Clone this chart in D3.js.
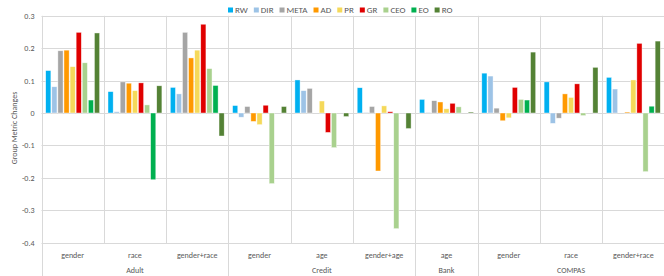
<!DOCTYPE html>
<html>
<head>
<meta charset="utf-8">
<script src="https://cdn.jsdelivr.net/npm/d3@7"></script>
<style>
  body { margin: 0; background: #fff; }
  text { font-family: Carlito, Calibri, "Open Sans", "Noto Sans", sans-serif; fill: #595959; }
</style>
</head>
<body>
<svg id="chart" width="664" height="276"></svg>
<script>
// chart data
datasets = ["Adult", "Adult", "Adult", "Credit", "Credit", "Credit", "Bank", "COMPAS", "COMPAS", "COMPAS"];
attributes = ["gender", "race", "gender+race", "gender", "age", "gender+age", "age", "gender", "race", "gender+race"];

seriesNames = ["RW", "DIR", "META", "AD", "PR", "GR", "CEO", "EO", "RO"];
seriesColors = ["#00b0f0", "#9dc3e6", "#a5a5a5", "#ff9900", "#f5d95a", "#e00000", "#a9d18e", "#00b050", "#548235"];

RW   = [0.131, 0.066, 0.079, 0.023, 0.102, 0.078, 0.042, 0.123, 0.096, 0.110];
DIR  = [0.081, 0.004, 0.059, -0.013, 0.069, 0.002, 0.002, 0.114, -0.032, 0.074];
META = [0.192, 0.096, 0.249, 0.020, 0.076, 0.020, 0.038, 0.015, -0.016, 0];
AD   = [0.194, 0.092, 0.170, -0.026, 0, -0.179, 0.034, -0.024, 0.059, 0.003];
PR   = [0.143, 0.069, 0.194, -0.036, 0.037, 0.022, 0.013, -0.015, 0.048, 0.102];
GR   = [0.249, 0.093, 0.274, 0.024, -0.060, 0.004, 0.030, 0.079, 0.090, 0.215];
CEO  = [0.155, 0.025, 0.137, -0.218, -0.107, -0.357, 0.019, 0.042, -0.008, -0.181];
EO   = [0.040, -0.206, 0.085, 0, 0, 0, 0, 0.040, 0, 0.021];
RO   = [0.247, 0.084, -0.071, 0.020, -0.011, -0.048, 0.003, 0.188, 0.141, 0.222];

yTicks = [0.3, 0.2, 0.1, 0, -0.1, -0.2, -0.3, -0.4];

values = [RW, DIR, META, AD, PR, GR, CEO, EO, RO];

var svg = d3.select("#chart");
var gridColor = "#d9d9d9";

var plotLeft = 41.5, plotRight = 664.5, plotTop = 15.8, plotBottom = 242.6;

var x0 = d3.scaleBand()
  .domain(d3.range(attributes.length))
  .range([plotLeft, plotRight]);

var x1 = d3.scaleBand()
  .domain(seriesNames)
  .range([4.2, x0.bandwidth() - 4.2])
  .paddingInner(0.15);

var y = d3.scaleLinear()
  .domain([-0.4, 0.3])
  .range([plotBottom, plotTop]);

// horizontal gridlines
svg.append("g").selectAll("line")
  .data(yTicks)
  .enter().append("line")
  .attr("x1", plotLeft).attr("x2", plotRight)
  .attr("y1", d => Math.round(y(d)) + 0.5)
  .attr("y2", d => Math.round(y(d)) + 0.5)
  .attr("stroke", gridColor);

// category separators; dataset boundaries run down through the labels
var bounds = d3.range(attributes.length + 1);
function bx(i) { return Math.round(i < attributes.length ? x0(i) : plotRight) + 0.5; }
svg.append("g").selectAll("line")
  .data(bounds)
  .enter().append("line")
  .attr("x1", bx)
  .attr("x2", bx)
  .attr("y1", plotTop)
  .attr("y2", i => (i == 0 || i == attributes.length || datasets[i] != datasets[i - 1]) ? 276 : Math.round(plotBottom) + 0.5)
  .attr("stroke", gridColor);

// y tick labels
svg.append("g").selectAll("text")
  .data(yTicks)
  .enter().append("text")
  .attr("x", 34.5)
  .attr("y", d => y(d) + 3)
  .attr("text-anchor", "end")
  .attr("font-size", 8)
  .text(d => d == 0 ? "0" : d.toFixed(1));

svg.append("text")
  .attr("transform", "translate(17,128) rotate(-90)")
  .attr("text-anchor", "middle")
  .attr("font-size", 8)
  .text("Group Metric Changes");

// bars
var groups = svg.append("g").selectAll("g")
  .data(seriesNames)
  .enter().append("g")
  .attr("fill", (d, i) => seriesColors[i]);

groups.selectAll("rect")
  .data((d, i) => values[i].map((v, j) => ({ s: d, v: v, c: j })))
  .enter().append("rect")
  .attr("x", d => x0(d.c) + x1(d.s))
  .attr("width", x1.bandwidth())
  .attr("y", d => y(Math.max(0, d.v)))
  .attr("height", d => Math.abs(y(d.v) - y(0)))
  .attr("stroke", "#fff")
  .attr("stroke-opacity", 0.7)
  .attr("stroke-width", 0.6);

// attribute labels
svg.append("g").selectAll("text")
  .data(attributes)
  .enter().append("text")
  .attr("x", (d, i) => x0(i) + x0.bandwidth() / 2)
  .attr("y", 257.5)
  .attr("text-anchor", "middle")
  .attr("font-size", 8)
  .text(d => d);

// dataset labels
var dsNames = Array.from(new Set(datasets));
svg.append("g").selectAll("text")
  .data(dsNames)
  .enter().append("text")
  .attr("x", d => {
    var idx = d3.range(datasets.length).filter(i => datasets[i] == d);
    return (x0(idx[0]) + x0(idx[idx.length - 1]) + x0.bandwidth()) / 2;
  })
  .attr("y", 272.5)
  .attr("text-anchor", "middle")
  .attr("font-size", 8)
  .text(d => d);

// legend
var legend = svg.append("g");
var lx = 228;
seriesNames.forEach(function(name, i) {
  legend.append("rect")
    .attr("x", lx).attr("y", 7.5)
    .attr("width", 5).attr("height", 5)
    .attr("fill", seriesColors[i]);
  var t = legend.append("text")
    .attr("x", lx + 7)
    .attr("y", 13)
    .attr("font-size", 9)
    .text(name);
  lx += 7 + t.node().getComputedTextLength() + 6;
});
</script>
</body>
</html>
